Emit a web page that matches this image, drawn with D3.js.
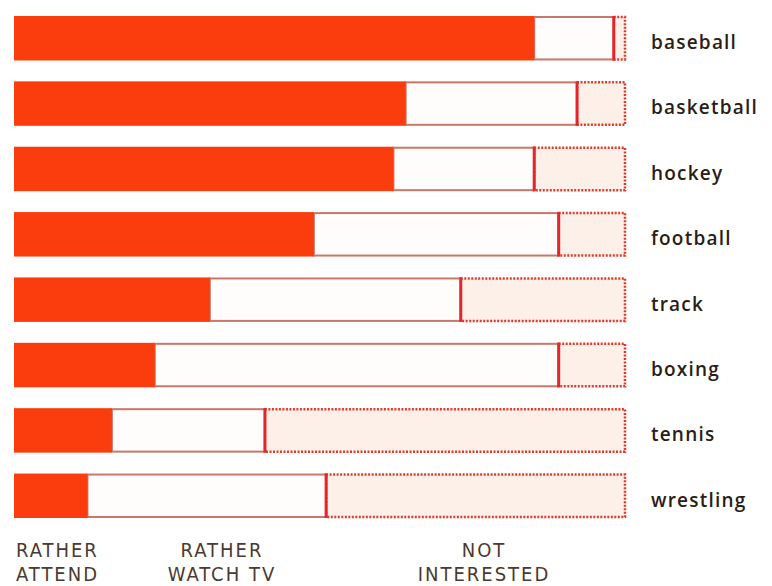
<!DOCTYPE html>
<html><head><meta charset="utf-8">
<script src="https://cdn.jsdelivr.net/npm/d3@7"></script>
<style>body{margin:0;background:#fff}svg{display:block}</style>
</head><body>
<script>
const sports = ["baseball","basketball","hockey","football","track","boxing","tennis","wrestling"];
const ratherAttend = [85, 64, 62, 49, 32, 23, 16, 12];
const ratherWatchTV = [13, 28, 23, 40, 41, 66, 25, 39];
const notInterested = [2, 8, 15, 11, 27, 11, 59, 49];
const legendLabels = [["RATHER","ATTEND"],["RATHER","WATCH TV"],["NOT","INTERESTED"]];

const W = 772, H = 586;
const svg = d3.select("body").append("svg").attr("width", W).attr("height", H);
const x = d3.scaleLinear().domain([0, 100]).range([14, 626]);
const y = d3.scaleBand().domain(sports).range([16, 518]).paddingInner(0.32).paddingOuter(0);

const rows = sports.map((s, i) => ({s, a: ratherAttend[i], b: ratherWatchTV[i], c: notInterested[i]}));

const red = "#fb3c0c";
const g = svg.append("g");
rows.forEach(r => {
  const y0 = y(r.s), h = y.bandwidth();
  g.append("rect").attr("x", x(r.a + r.b)).attr("y", y0 + 1).attr("width", x(100) - x(r.a + r.b) - 1).attr("height", h - 2)
    .attr("fill", "#fcf0e8").attr("stroke", "#e23a2a").attr("stroke-width", 2.5).attr("stroke-dasharray", "2,1.5");
  g.append("rect").attr("x", x(r.a)).attr("y", y0 + 1).attr("width", x(r.a + r.b) - x(r.a)).attr("height", h - 2)
    .attr("fill", "#fffdfb").attr("stroke", "#c9776a").attr("stroke-width", 2);
  g.append("line").attr("x1", x(r.a + r.b)).attr("x2", x(r.a + r.b)).attr("y1", y0).attr("y2", y0 + h)
    .attr("stroke", "#e4262a").attr("stroke-width", 3);
  g.append("rect").attr("x", x(0)).attr("y", y0).attr("width", x(r.a) - x(0)).attr("height", h)
    .attr("fill", red);
  g.append("text").attr("x", 651).attr("y", y0 + h / 2 + 4).attr("dy", "0.36em")
    .attr("font-family", "'Open Sans', sans-serif").attr("font-weight", 600).attr("font-size", 19)
    .attr("letter-spacing", 1.2).attr("fill", "#2a1d16").text(r.s);
});

const legendX = [16, 222, 484];
legendLabels.forEach((lines, i) => {
  lines.forEach((ln, j) => {
    svg.append("text").attr("font-family", "'DejaVu Sans Condensed', 'DejaVu Sans', sans-serif")
      .attr("font-size", 20).attr("letter-spacing", 2).attr("fill", "#4a3a30")
      .attr("x", legendX[i]).attr("y", 557 + j * 24)
      .attr("text-anchor", i === 0 ? "start" : "middle").text(ln);
  });
});
</script>
</body></html>
